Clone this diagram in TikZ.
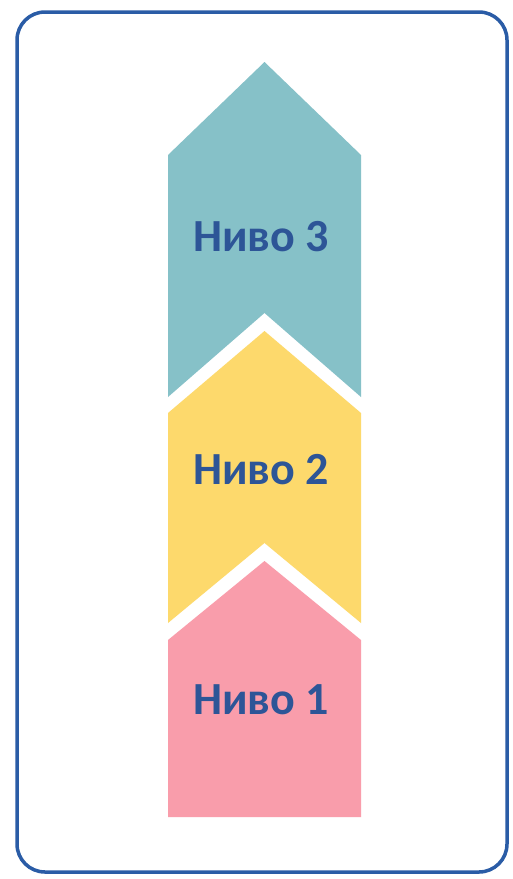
\documentclass[tikz,border=0pt]{standalone}
\usepackage{fontspec}
\setmainfont{Carlito}
\usepackage{xcolor}

\definecolor{frameblue}{HTML}{2A5CA6}
\definecolor{textblue}{HTML}{2D5597}
\definecolor{levelteal}{HTML}{86C1C8}
\definecolor{levelyellow}{HTML}{FDD96C}
\definecolor{levelpink}{HTML}{F99DAB}

\begin{document}
\begin{tikzpicture}[x=1pt,y=-1pt,
    level label/.style={font=\bfseries\fontsize{46}{50}\selectfont,text=textblue,inner sep=0pt}]
    \useasboundingbox (0,0) rectangle (512,879);
    \fill[white] (0,0) rectangle (512,879);

    % outer frame
    \draw[frameblue,line width=3.5pt,rounded corners=28pt] (17,12) rectangle (507,872);

    % three levels, bottom to top
    \fill[levelteal]   (168,155) -- (264.5,62)  -- (361,155) -- (361,397) -- (264.5,313) -- (168,397) -- cycle;
    \fill[levelyellow] (168,413) -- (264.5,331) -- (361,413) -- (361,623) -- (264.5,543) -- (168,623) -- cycle;
    \fill[levelpink]   (168,640) -- (264.5,561) -- (361,640) -- (361,817) -- (168,817) -- cycle;

    \node[level label] (lvl3) at (261,237) {Ниво 3};
    \node[level label] (lvl2) at (261,469.5) {Ниво 2};
    \node[level label] (lvl1) at (261,700) {Ниво 1};
\end{tikzpicture}
\end{document}
